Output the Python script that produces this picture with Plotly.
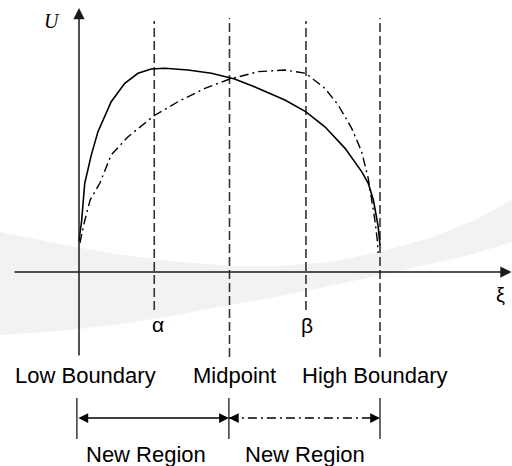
import plotly.graph_objects as go

# ---- data (ξ normalised: low boundary = 0, high boundary = 1; U normalised to peak ≈ 1) ----
xi_solid = [0.0, 0.009, 0.019, 0.041, 0.063, 0.107, 0.152, 0.196, 0.240, 0.285, 0.362, 0.440,
            0.517, 0.596, 0.684, 0.753, 0.817, 0.884, 0.939, 0.961, 0.978, 0.994, 1.0]
u_solid = [0.152, 0.255, 0.435, 0.574, 0.688, 0.835, 0.925, 0.974, 0.995, 0.999, 0.990, 0.974,
           0.946, 0.900, 0.843, 0.786, 0.712, 0.606, 0.492, 0.435, 0.353, 0.222, 0.132]

xi_dashdot = [0.003, 0.017, 0.037, 0.069, 0.107, 0.163, 0.249, 0.329, 0.418, 0.501, 0.596, 0.684,
              0.753, 0.817, 0.861, 0.906, 0.939, 0.961, 0.967, 0.983, 0.991, 0.994]
u_dashdot = [0.142, 0.240, 0.353, 0.435, 0.574, 0.663, 0.766, 0.835, 0.900, 0.946, 0.982, 0.990,
             0.974, 0.900, 0.819, 0.704, 0.590, 0.459, 0.402, 0.255, 0.157, 0.093]

guide_names = ["α", "Midpoint", "β", "High Boundary"]
guide_xi = [0.25, 0.5, 0.754, 1.0]
guide_top = [1.23, 1.245, 1.23, 1.245]
guide_bottom = [-0.186, -0.417, -0.186, -0.417]

boundary_labels = ["Low Boundary", "Midpoint", "High Boundary"]
boundary_label_xi = [0.02, 0.517, 0.983]
region_edges = [-0.007, 0.498, 1.0]
region_labels = ["New Region", "New Region"]
region_label_xi = [0.221, 0.752]

# axis extents
x_axis_from, x_axis_to = -0.219, 1.437
y_axis_from, y_axis_to = -0.417, 1.294

# pixel frame of the picture
X_RANGE = [-0.26246, 1.43854]
Y_RANGE = [-0.95098, 1.33333]

fig = go.Figure()

# watermark swoosh (decorative, paper coordinates from pixels)
wm_top = [(0, 232), (60, 244), (115, 254), (170, 261), (230, 266), (280, 266), (330, 262),
          (380, 252), (430, 238), (475, 220), (512, 200)]
wm_bottom = [(512, 242), (470, 255), (430, 264), (380, 275), (330, 286), (280, 296),
             (230, 305), (170, 316), (115, 325), (60, 331), (0, 335)]
pts = wm_top + wm_bottom
path = "M " + " L ".join(f"{px/512:.4f},{1 - py/466:.4f}" for px, py in pts) + " Z"
fig.add_shape(type="path", path=path, xref="paper", yref="paper",
              fillcolor="#f2f2f2", line=dict(width=0), layer="below")

# dashed guide lines
for gx, gt, gb in zip(guide_xi, guide_top, guide_bottom):
    fig.add_trace(go.Scatter(x=[gx, gx], y=[gb, gt], mode="lines",
                             line=dict(color="#333333", width=1.6, dash="9px,4px"),
                             hoverinfo="skip"))

# curves
fig.add_trace(go.Scatter(x=xi_solid, y=u_solid, mode="lines",
                         line=dict(color="black", width=1.6), hoverinfo="skip"))
fig.add_trace(go.Scatter(x=xi_dashdot, y=u_dashdot, mode="lines",
                         line=dict(color="black", width=1.4, dash="9px,4px,2px,4px"),
                         hoverinfo="skip"))

ann = []
# axes with arrowheads
ann.append(dict(x=0, y=y_axis_to, ax=0, ay=y_axis_from, xref="x", yref="y", axref="x", ayref="y",
                text="", showarrow=True, arrowhead=2, arrowsize=1.5, arrowwidth=1.5,
                arrowcolor="#1a1a1a"))
ann.append(dict(x=x_axis_to, y=0, ax=x_axis_from, ay=0, xref="x", yref="y", axref="x", ayref="y",
                text="", showarrow=True, arrowhead=2, arrowsize=1.5, arrowwidth=1.5,
                arrowcolor="#1a1a1a"))

# region bars
region_y = -0.716
for ex in region_edges:
    fig.add_trace(go.Scatter(x=[ex, ex], y=[-0.618, -0.819], mode="lines",
                             line=dict(color="#1a1a1a", width=1.3), hoverinfo="skip"))
# solid double arrow
ann.append(dict(x=region_edges[1], y=region_y, ax=region_edges[0], ay=region_y,
                xref="x", yref="y", axref="x", ayref="y", text="", showarrow=True,
                arrowhead=2, startarrowhead=2, arrowside="end+start",
                arrowsize=1.4, startarrowsize=1.4, arrowwidth=1.4, arrowcolor="black"))
# dash-dot double arrow
fig.add_trace(go.Scatter(x=[region_edges[1], region_edges[2]], y=[region_y, region_y], mode="lines",
                         line=dict(color="black", width=1.4, dash="9px,4px,2px,4px"),
                         hoverinfo="skip"))
ann.append(dict(x=region_edges[1], y=region_y, ax=8, ay=0, xref="x", yref="y", text="",
                showarrow=True, arrowhead=2, arrowsize=1.4, arrowwidth=1.4, arrowcolor="black"))
ann.append(dict(x=region_edges[2], y=region_y, ax=-8, ay=0, xref="x", yref="y", text="",
                showarrow=True, arrowhead=2, arrowsize=1.4, arrowwidth=1.4, arrowcolor="black"))

sans = "Liberation Sans, Arial, sans-serif"
# text labels
ann.append(dict(x=-0.090, y=1.228, text="<i>U</i>", showarrow=False, xref="x", yref="y",
                font=dict(family="Liberation Serif, Times New Roman, serif", size=20, color="black"),
                xanchor="center", yanchor="middle"))
ann.append(dict(x=1.399, y=-0.113, text="ξ", showarrow=False, xref="x", yref="y",
                font=dict(family=sans, size=20, color="black"), xanchor="center", yanchor="middle"))
ann.append(dict(x=0.262, y=-0.255, text="α", showarrow=False, xref="x", yref="y",
                font=dict(family=sans, size=21, color="black"), xanchor="center", yanchor="middle"))
ann.append(dict(x=0.757, y=-0.260, text="β", showarrow=False, xref="x", yref="y",
                font=dict(family=sans, size=21, color="black"), xanchor="center", yanchor="middle"))
for lbl, lx in zip(boundary_labels, boundary_label_xi):
    ann.append(dict(x=lx, y=-0.505, text=lbl, showarrow=False, xref="x", yref="y",
                    font=dict(family=sans, size=22, color="black"), xanchor="center", yanchor="middle"))
for lbl, lx in zip(region_labels, region_label_xi):
    ann.append(dict(x=lx, y=-0.895, text=lbl, showarrow=False, xref="x", yref="y",
                    font=dict(family=sans, size=22, color="black"), xanchor="center", yanchor="middle"))

fig.update_layout(
    width=512, height=466, margin=dict(l=0, r=0, t=0, b=0),
    paper_bgcolor="white", plot_bgcolor="rgba(0,0,0,0)", showlegend=False,
    xaxis=dict(range=X_RANGE, visible=False, fixedrange=True),
    yaxis=dict(range=Y_RANGE, visible=False, fixedrange=True),
    annotations=ann,
)
fig.write_html("out.html", config={"displayModeBar": False},
               post_script="document.body.style.margin='0';document.body.style.overflow='hidden';")
